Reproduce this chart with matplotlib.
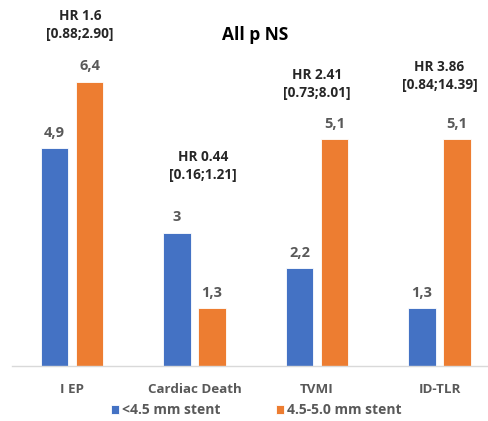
import matplotlib.pyplot as plt
import numpy as np

plt.rcParams['font.family'] = ['Open Sans', 'DejaVu Sans']

# Datos
categorias = ['I EP', 'Cardiac Death', 'TVMI', 'ID-TLR']
stent_pequeno = [4.9, 3.0, 2.2, 1.3]
stent_grande = [6.4, 1.3, 5.1, 5.1]
etiquetas_peq = ['4,9', '3', '2,2', '1,3']
etiquetas_gra = ['6,4', '1,3', '5,1', '5,1']
hr_textos = ['HR 1.6\n[0.88;2.90]', 'HR 0.44\n[0.16;1.21]',
             'HR 2.41\n[0.73;8.01]', 'HR 3.86\n[0.84;14.39]']
hr_x = [0.065, 1.07, 2.0, 3.0]
hr_y = [7.68, 4.50, 6.35, 6.53]

azul = '#4472C4'
naranja = '#ED7D31'
gris = '#595959'

fig = plt.figure(figsize=(4.89, 4.21), dpi=100)
ax = fig.add_axes([12 / 489, 55 / 421, 477 / 489, 366 / 421])

x = np.arange(len(categorias))
ancho = 0.225
desp = 0.143
b1 = ax.bar(x - desp, stent_pequeno, ancho, color=azul, edgecolor='white',
            linewidth=0.6, label='<4.5 mm stent')
b2 = ax.bar(x + desp, stent_grande, ancho, color=naranja, edgecolor='white',
            linewidth=0.6, label='4.5-5.0 mm stent')

# Etiquetas de valores
for barras, textos in ((b1, etiquetas_peq), (b2, etiquetas_gra)):
    for barra, t in zip(barras, textos):
        ax.annotate(t, (barra.get_x() + barra.get_width() / 2, barra.get_height()),
                    xytext=(0, 11), textcoords='offset points', ha='center',
                    va='center', fontsize=10.5, fontweight='bold', color=gris)

# Hazard ratios
for xi, yi, t in zip(hr_x, hr_y, hr_textos):
    ax.text(xi, yi, t, ha='center', va='center', fontsize=9.8,
            fontweight='bold', color='#262626', linespacing=1.35)

ax.set_xlim(-0.49, 3.404)
ax.set_ylim(0, 8.24)
ax.set_xticks(x)
ax.set_xticklabels(categorias, fontsize=9.6, fontweight='bold', color=gris)
ax.tick_params(axis='x', length=0, pad=12)
ax.set_yticks([])
for lado in ['top', 'right', 'left']:
    ax.spines[lado].set_visible(False)
ax.spines['bottom'].set_color('#D9D9D9')
ax.spines['bottom'].set_linewidth(1)

fig.text(255 / 489, 1 - 35 / 421, 'All p NS', ha='center', va='center',
         fontsize=12.5, fontweight='bold', color='black')

fig.legend(loc='center', bbox_to_anchor=(256 / 489, 1 - 410 / 421), ncol=2,
           frameon=False, handlelength=0.6, handleheight=0.6,
           handletextpad=0.2, columnspacing=4.0,
           prop={'size': 10, 'weight': 'bold'}, labelcolor=gris)

fig.savefig('out.png', dpi=100)
